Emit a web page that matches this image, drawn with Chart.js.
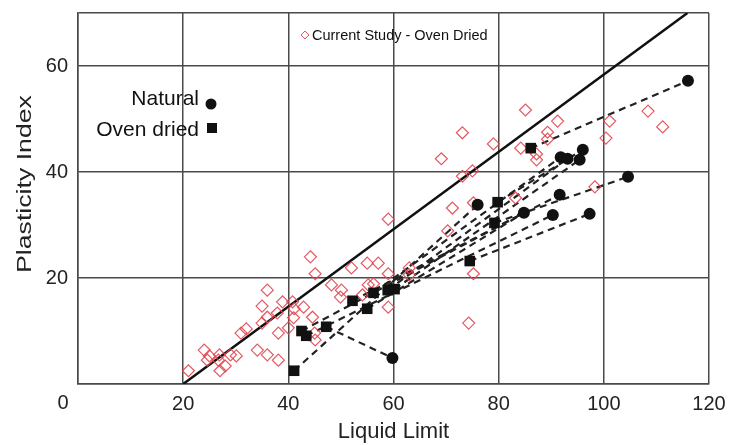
<!DOCTYPE html>
<html>
<head>
<meta charset="utf-8">
<title>Plasticity chart</title>
<script src="https://cdn.jsdelivr.net/npm/chart.js@4/dist/chart.umd.min.js"></script>
<style>
  html, body { margin: 0; padding: 0; background: #fff; }
  #wrap { width: 730px; height: 445px; }
</style>
</head>
<body>
<div id="wrap"><canvas id="plastChart"></canvas></div>
<script>
// campioni naturali (cerchi)
var naturalLL = [116.0, 104.6, 96.0, 91.8, 93.1, 95.4, 91.6, 90.3, 97.3, 84.8, 76.0, 59.8];
var naturalPI = [57.2, 39.1, 44.2, 42.8, 42.5, 42.3, 35.7, 31.9, 32.1, 32.3, 33.8, 4.9];

// campioni essiccati in forno (quadrati)
var ovenLL = [41.1, 42.5, 43.4, 47.2, 52.2, 55.0, 56.2, 58.9, 60.2, 74.5, 79.2, 79.8, 86.1];
var ovenPI = [2.5, 10.0, 9.1, 10.8, 15.7, 14.2, 17.2, 17.7, 17.9, 23.2, 30.4, 34.3, 44.5];

// per ogni campione in forno, l'indice del campione naturale collegato
var pairLinks = [10, 9, 7, 11, 6, 9, 3, 4, 5, 8, 1, 2, 0];

// studio attuale - forno (rombi)
var currentLL = [21.0, 24.0, 25.0, 24.6, 26.7, 27.0, 28.0, 26.9, 29.0, 30.1,
  31.0, 32.0, 34.1, 36.0, 38.1, 38.1, 36.0, 35.0, 36.0, 35.0,
  37.9, 38.9, 40.8, 41.1, 41.0, 40.0, 42.9, 44.2, 45.1, 44.6,
  45.0, 45.1, 48.2, 50.1, 49.9, 52.0, 55.0, 57.1, 54.1, 55.2,
  56.2, 59.0, 59.0, 59.0, 63.0, 63.0, 70.3, 71.2, 75.2, 75.2,
  74.3, 69.1, 73.1, 75.0, 73.1, 79.0, 83.2, 84.2, 87.2, 87.2,
  85.1, 91.2, 89.3, 89.3, 101.1, 100.4, 108.4, 111.2, 98.3];
var currentPI = [2.5, 6.4, 5.3, 4.5, 4.5, 2.5, 3.4, 5.5, 5.5, 5.3,
  9.6, 10.4, 6.4, 5.5, 4.5, 9.6, 17.7, 14.7, 12.6, 11.5,
  13.4, 15.5, 15.5, 14.2, 12.5, 10.6, 14.5, 24.0, 20.8, 12.6,
  9.6, 8.3, 18.7, 17.7, 16.4, 21.9, 22.8, 22.8, 16.8, 18.7,
  18.9, 31.1, 20.8, 14.5, 21.9, 20.6, 28.9, 33.2, 34.2, 20.8,
  11.5, 42.5, 39.2, 40.2, 47.4, 45.3, 35.1, 44.5, 43.4, 42.3,
  51.7, 49.6, 47.5, 46.2, 49.6, 46.4, 51.5, 48.5, 37.2];

// linea A: PI = 0.73 (LL - 20)
var aLineLL = [20, 115.9];
var aLinePI = [0, 70];

var xTicks = [0, 20, 40, 60, 80, 100, 120];
var yTicks = [0, 20, 40, 60, 70];

function toPoints(xs, ys) {
  var out = [];
  for (var i = 0; i < xs.length; i++) {
    out.push({ x: xs[i], y: ys[i] });
  }
  return out;
}

var fontName = "'Liberation Sans', Arial, sans-serif";
var redDiamond = 'rgba(226, 70, 80, 0.9)';

var datasets = [];

// linee tratteggiate tra coppie forno -> naturale
for (var i = 0; i < ovenLL.length; i++) {
  var n = pairLinks[i];
  datasets.push({
    type: 'line',
    data: [{ x: ovenLL[i], y: ovenPI[i] }, { x: naturalLL[n], y: naturalPI[n] }],
    borderColor: '#222',
    borderWidth: 2.2,
    borderDash: [7, 5],
    pointRadius: 0,
    fill: false,
    order: 5
  });
}

datasets.push({
  type: 'line',
  data: toPoints(aLineLL, aLinePI),
  borderColor: '#111',
  borderWidth: 2.5,
  pointRadius: 0,
  fill: false,
  order: 4
});

datasets.push({
  label: 'Current Study - Oven Dried',
  data: toPoints(currentLL, currentPI),
  pointStyle: 'rectRot',
  pointRadius: 6,
  borderColor: redDiamond,
  backgroundColor: 'rgba(255,255,255,0)',
  borderWidth: 1.2,
  order: 3
});

datasets.push({
  label: 'Oven dried',
  data: toPoints(ovenLL, ovenPI),
  pointStyle: 'rect',
  pointRadius: 7.5,
  backgroundColor: '#111',
  borderColor: '#111',
  borderWidth: 0,
  order: 2
});

datasets.push({
  label: 'Natural',
  data: toPoints(naturalLL, naturalPI),
  pointStyle: 'circle',
  pointRadius: 6,
  backgroundColor: '#111',
  borderColor: '#111',
  borderWidth: 0,
  order: 1
});

// legende e titolo verticale disegnati a mano
var insideLegend = {
  id: 'insideLegend',
  afterDraw: function(chart) {
    var ctx = chart.ctx;
    var area = chart.chartArea;
    ctx.save();
    ctx.fillStyle = '#111';
    ctx.textBaseline = 'alphabetic';
    ctx.textAlign = 'right';
    ctx.font = '21px ' + fontName;
    ctx.fillText('Natural', 199, 105);
    ctx.fillText('Oven dried', 199, 136);

    ctx.beginPath();
    ctx.arc(211, 104, 5.5, 0, Math.PI * 2);
    ctx.fill();
    ctx.fillRect(207, 123, 10, 10);

    // rombo + testo in alto
    ctx.strokeStyle = redDiamond;
    ctx.lineWidth = 1;
    ctx.beginPath();
    ctx.moveTo(305, 31);
    ctx.lineTo(309, 35);
    ctx.lineTo(305, 39);
    ctx.lineTo(301, 35);
    ctx.closePath();
    ctx.stroke();
    ctx.textAlign = 'left';
    ctx.font = '14.5px ' + fontName;
    ctx.fillText('Current Study - Oven Dried', 312, 40);

    // lo zero dell'asse x, spostato a sinistra dell'angolo
    ctx.fillStyle = '#222';
    ctx.textAlign = 'center';
    ctx.textBaseline = 'top';
    ctx.font = '20px ' + fontName;
    ctx.fillText('0', area.left - 15, area.bottom + 9);

    // titolo asse y, un po' allungato
    ctx.fillStyle = '#222';
    ctx.translate(31, 184);
    ctx.rotate(-Math.PI / 2);
    ctx.scale(1.27, 1);
    ctx.textAlign = 'center';
    ctx.textBaseline = 'alphabetic';
    ctx.font = '21px ' + fontName;
    ctx.fillText('Plasticity Index', 0, 0);
    ctx.restore();
  }
};

var ctx = document.getElementById('plastChart').getContext('2d');
new Chart(ctx, {
  type: 'scatter',
  data: { datasets: datasets },
  options: {
    responsive: true,
    maintainAspectRatio: false,
    animation: false,
    layout: { autoPadding: false, padding: { top: 13, right: 21, left: 0, bottom: 0 } },
    plugins: {
      legend: { display: false },
      tooltip: { enabled: false }
    },
    scales: {
      x: {
        type: 'linear',
        min: 0,
        max: 120,
        afterBuildTicks: function(scale) {
          scale.ticks = xTicks.map(function(v) { return { value: v }; });
        },
        afterFit: function(scale) {
          scale.height = 61;
          scale.paddingLeft = 0;
          scale.paddingRight = 0;
        },
        grid: { color: '#4a4a4a', lineWidth: 1.5, drawTicks: false },
        border: { color: '#4a4a4a', width: 1.5 },
        ticks: {
          padding: 8,
          color: '#222',
          font: { family: fontName, size: 20 },
          maxRotation: 0,
          callback: function(v) {
            if (v === 0) return '';
            return v;
          }
        },
        title: {
          display: true,
          text: 'Liquid Limit',
          color: '#222',
          font: { family: fontName, size: 22 },
          padding: { top: 0, bottom: 0 }
        }
      },
      y: {
        type: 'linear',
        min: 0,
        max: 70,
        afterBuildTicks: function(scale) {
          scale.ticks = yTicks.map(function(v) { return { value: v }; });
        },
        afterFit: function(scale) {
          scale.width = 78;
          scale.paddingTop = 0;
          scale.paddingBottom = 0;
        },
        grid: { color: '#4a4a4a', lineWidth: 1.5, drawTicks: false },
        border: { color: '#4a4a4a', width: 1.5 },
        ticks: {
          padding: 10,
          color: '#222',
          font: { family: fontName, size: 20 },
          callback: function(v) {
            // la riga a 70 e' solo il bordo superiore
            if (v === 70 || v === 0) return '';
            return v;
          }
        },
        title: { display: false }
      }
    }
  },
  plugins: [insideLegend]
});
</script>
</body>
</html>
